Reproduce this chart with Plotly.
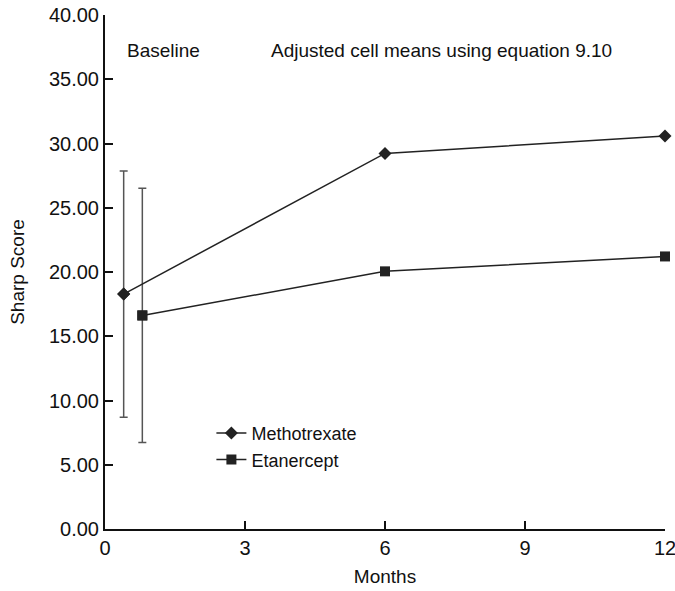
import plotly.graph_objects as go

months_meth = [0.4, 6, 12]
months_etan = [0.8, 6, 12]
meth_scores = [18.28, 29.23, 30.58]
etan_scores = [16.62, 20.05, 21.21]
meth_baseline_err = [9.58]
etan_baseline_err = [9.89]
x_ticks = [0, 3, 6, 9, 12]
y_ticks = [0, 5, 10, 15, 20, 25, 30, 35, 40]

FONT = "Liberation Sans, Arial, Helvetica, sans-serif"

fig = go.Figure()

# baseline error bars
fig.add_trace(go.Scatter(
    x=months_meth[:1], y=meth_scores[:1], mode="markers",
    marker=dict(symbol="diamond", size=10, color="#222"),
    error_y=dict(type="data", array=meth_baseline_err, color="#555", thickness=1.5, width=4),
    showlegend=False, hoverinfo="skip"))
fig.add_trace(go.Scatter(
    x=months_etan[:1], y=etan_scores[:1], mode="markers",
    marker=dict(symbol="square", size=10, color="#222"),
    error_y=dict(type="data", array=etan_baseline_err, color="#555", thickness=1.5, width=4),
    showlegend=False, hoverinfo="skip"))

fig.add_trace(go.Scatter(
    x=months_meth, y=meth_scores, mode="lines+markers", name="Methotrexate",
    line=dict(color="#222", width=1.5),
    marker=dict(symbol="diamond", size=10, color="#222"), cliponaxis=False))
fig.add_trace(go.Scatter(
    x=months_etan, y=etan_scores, mode="lines+markers", name="Etanercept",
    line=dict(color="#222", width=1.5),
    marker=dict(symbol="square", size=10, color="#222"), cliponaxis=False))

fig.update_layout(
    width=675, height=591,
    margin=dict(l=105, r=10, t=15, b=62),
    paper_bgcolor="white", plot_bgcolor="white",
    font=dict(family=FONT, size=19, color="#111"),
    showlegend=True,
    legend=dict(x=0.19, y=0.222, xanchor="left", yanchor="top",
                bgcolor="rgba(0,0,0,0)", font=dict(size=18), tracegroupgap=0),
    xaxis=dict(range=[0, 12], tickvals=x_ticks, ticktext=[str(v) for v in x_ticks],
               showgrid=False, zeroline=False, showline=True, linecolor="#111", linewidth=2,
               ticks="inside", ticklen=8, tickwidth=2, tickcolor="#111",
               tickfont=dict(size=20), ticklabeloverflow="allow", automargin=False,
               title=dict(text="Months", font=dict(size=19), standoff=12)),
    yaxis=dict(range=[0, 40], tickvals=y_ticks, ticktext=[f"{v:.2f}" for v in y_ticks],
               showgrid=False, zeroline=False, showline=True, linecolor="#111", linewidth=2,
               ticks="inside", ticklen=8, tickwidth=2, tickcolor="#111",
               tickfont=dict(size=20), automargin=False,
               title=dict(text="Sharp Score", font=dict(size=19), standoff=19)),
    annotations=[
        dict(text="Baseline", x=0.036, y=0.93, xref="paper", yref="paper",
             xanchor="left", yanchor="middle", showarrow=False, font=dict(size=19)),
        dict(text="Adjusted cell means using equation 9.10", x=0.292, y=0.93,
             xref="paper", yref="paper", xanchor="left", yanchor="middle",
             showarrow=False, font=dict(size=19)),
    ],
)

fig.write_html("out.html")
